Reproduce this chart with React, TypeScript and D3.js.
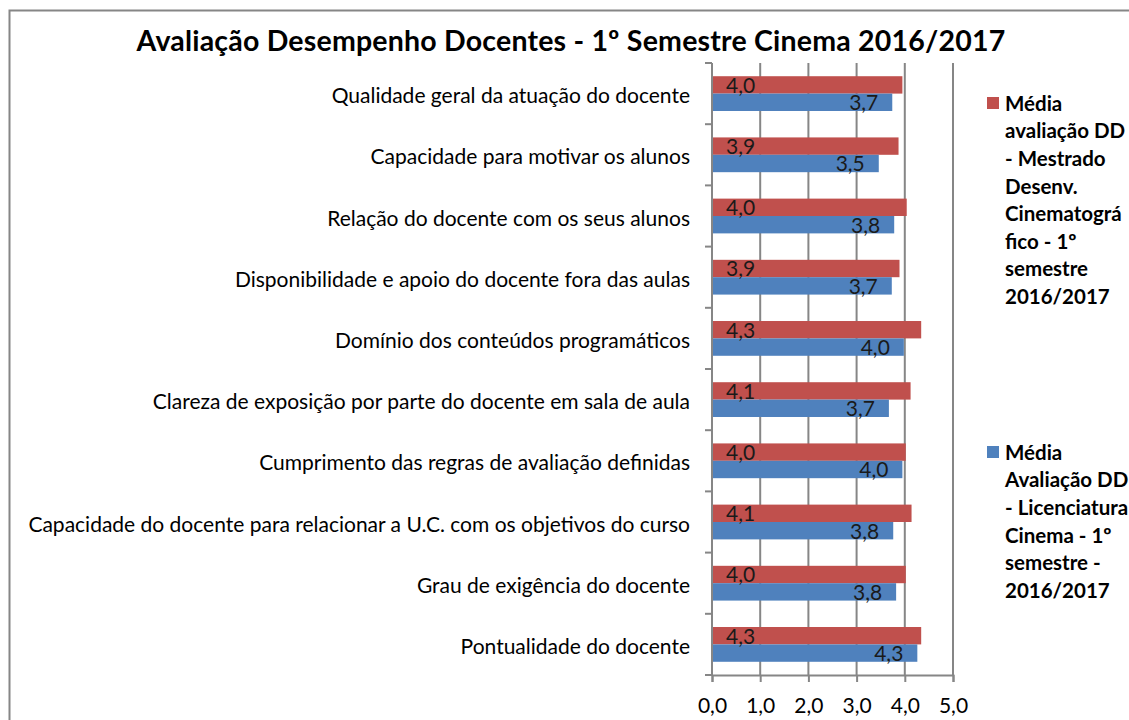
import React, { useEffect, useRef } from "react";
import * as d3 from "d3";

// categories, top to bottom
const categories = [
  "Qualidade geral da atuação do docente",
  "Capacidade para motivar os alunos",
  "Relação do docente com os seus alunos",
  "Disponibilidade e apoio do docente fora das aulas",
  "Domínio dos conteúdos programáticos",
  "Clareza de exposição por parte do docente em sala de aula",
  "Cumprimento das regras de avaliação definidas",
  "Capacidade do docente para relacionar a U.C. com os objetivos do curso",
  "Grau de exigência do docente",
  "Pontualidade do docente",
];

const mestrado = [3.95, 3.87, 4.04, 3.89, 4.34, 4.12, 4.02, 4.14, 4.02, 4.34];
const licenciatura = [3.74, 3.46, 3.78, 3.73, 3.98, 3.67, 3.95, 3.76, 3.82, 4.26];

const xTicks = [0, 1, 2, 3, 4, 5];

const title = "Avaliação Desempenho Docentes - 1º Semestre Cinema 2016/2017";

const legendMestrado = [
  "Média",
  "avaliação DD",
  "- Mestrado",
  "Desenv.",
  "Cinematográ",
  "fico - 1º",
  "semestre",
  "2016/2017",
];
const legendLicenciatura = [
  "Média",
  "Avaliação DD",
  "- Licenciatura",
  "Cinema - 1º",
  "semestre -",
  "2016/2017",
];

const RED = "#C0504D";
const BLUE = "#4F81BD";
const GREY = "#868686";
const FONT = "Lato, 'Open Sans', sans-serif";

const fmt = (v: number) => v.toFixed(1).replace(".", ",");

export default function App() {
  const ref = useRef<SVGSVGElement>(null);

  useEffect(() => {
    document.body.style.margin = "0";
    const svg = d3.select(ref.current);
    svg.selectAll("*").remove();

    const width = 1129;
    const height = 720;
    svg.attr("width", width).attr("height", height);

    svg.append("rect")
      .attr("x", 0).attr("y", 0)
      .attr("width", width).attr("height", height)
      .attr("fill", "#fff");

    // chart border
    svg.append("rect")
      .attr("x", 9.5).attr("y", 10.5)
      .attr("width", width + 20).attr("height", height + 20)
      .attr("fill", "none")
      .attr("stroke", GREY)
      .attr("stroke-width", 2);

    svg.append("text")
      .attr("x", 571)
      .attr("y", 51)
      .attr("text-anchor", "middle")
      .attr("font-family", FONT)
      .attr("font-weight", "bold")
      .attr("font-size", 28.5)
      .attr("letter-spacing", 0.2)
      .attr("fill", "#000")
      .text(title);

    const plot = { left: 712, right: 953, top: 63, bottom: 675 };

    const x = d3.scaleLinear().domain([0, 5]).range([plot.left, plot.right]);
    const y = d3.scaleBand().domain(categories).range([plot.top, plot.bottom]);
    const ySub = d3.scaleBand()
      .domain(["m", "l"])
      .range([0, y.bandwidth()])
      .paddingOuter(0.76);

    // vertical gridlines
    svg.append("g")
      .selectAll("line")
      .data(xTicks.slice(1))
      .enter()
      .append("line")
      .attr("x1", d => x(d)).attr("x2", d => x(d))
      .attr("y1", plot.top).attr("y2", plot.bottom)
      .attr("stroke", GREY)
      .attr("stroke-width", 2);

    const rows = categories.map((c, i) => ({ c, m: mestrado[i], l: licenciatura[i] }));

    const g = svg.append("g");
    g.selectAll(".bar-m")
      .data(rows)
      .enter()
      .append("rect")
      .attr("x", x(0))
      .attr("y", d => y(d.c)! + ySub("m")!)
      .attr("width", d => x(d.m) - x(0))
      .attr("height", ySub.bandwidth())
      .attr("fill", RED);
    g.selectAll(".bar-l")
      .data(rows)
      .enter()
      .append("rect")
      .attr("x", x(0))
      .attr("y", d => y(d.c)! + ySub("l")!)
      .attr("width", d => x(d.l) - x(0))
      .attr("height", ySub.bandwidth())
      .attr("fill", BLUE);

    // value labels: red at base, blue at the end
    g.selectAll(".lab-m")
      .data(rows)
      .enter()
      .append("text")
      .attr("x", x(0) + 14)
      .attr("y", d => y(d.c)! + ySub("m")! + ySub.bandwidth() / 2)
      .attr("dy", "0.38em")
      .attr("font-family", FONT)
      .attr("font-size", 21)
      .attr("fill", "#1a1a1a")
      .text(d => fmt(d.m));
    g.selectAll(".lab-l")
      .data(rows)
      .enter()
      .append("text")
      .attr("x", d => x(d.l) - 14)
      .attr("y", d => y(d.c)! + ySub("l")! + ySub.bandwidth() / 2)
      .attr("dy", "0.38em")
      .attr("text-anchor", "end")
      .attr("font-family", FONT)
      .attr("font-size", 21)
      .attr("fill", "#1a1a1a")
      .text(d => fmt(d.l));

    // category axis
    const yAxis = svg.append("g");
    yAxis.append("line")
      .attr("x1", plot.left).attr("x2", plot.left)
      .attr("y1", plot.top).attr("y2", plot.bottom)
      .attr("stroke", GREY).attr("stroke-width", 2);
    yAxis.selectAll(".tick")
      .data([...categories.map(c => y(c)!), plot.bottom])
      .enter()
      .append("line")
      .attr("x1", plot.left - 7).attr("x2", plot.left)
      .attr("y1", d => d).attr("y2", d => d)
      .attr("stroke", GREY).attr("stroke-width", 2);
    yAxis.selectAll(".cat")
      .data(categories)
      .enter()
      .append("text")
      .attr("x", 690)
      .attr("y", d => y(d)! + y.bandwidth() / 2 + 9.5)
      .attr("text-anchor", "end")
      .attr("font-family", FONT)
      .attr("font-size", 21)
      .attr("fill", "#000")
      .text(d => d);

    // value axis
    const xAxis = svg.append("g")
      .attr("transform", `translate(0,${plot.bottom})`)
      .call(
        d3.axisBottom(x)
          .tickValues(xTicks)
          .tickSize(7)
          .tickPadding(16)
          .tickFormat(d => fmt(+d))
      );
    xAxis.select(".domain").attr("stroke", GREY).attr("stroke-width", 2);
    xAxis.selectAll(".tick line").attr("stroke", GREY).attr("stroke-width", 2);
    xAxis.selectAll("text")
      .attr("font-family", FONT)
      .attr("font-size", 21)
      .attr("fill", "#000");

    // legend
    const drawLegend = (lines: string[], color: string, top: number) => {
      const lg = svg.append("g").attr("transform", `translate(987,${top})`);
      lg.append("rect")
        .attr("x", 0).attr("y", -6)
        .attr("width", 12).attr("height", 12)
        .attr("fill", color);
      lg.selectAll("text")
        .data(lines)
        .enter()
        .append("text")
        .attr("x", 18)
        .attr("y", (_, i) => i * 27.6)
        .attr("dy", "0.38em")
        .attr("font-family", FONT)
        .attr("font-weight", "bold")
        .attr("font-size", 20.5)
        .attr("fill", "#000")
        .text(d => d);
    };
    drawLegend(legendMestrado, RED, 103);
    drawLegend(legendLicenciatura, BLUE, 452);
  }, []);

  return <svg ref={ref}></svg>;
}
